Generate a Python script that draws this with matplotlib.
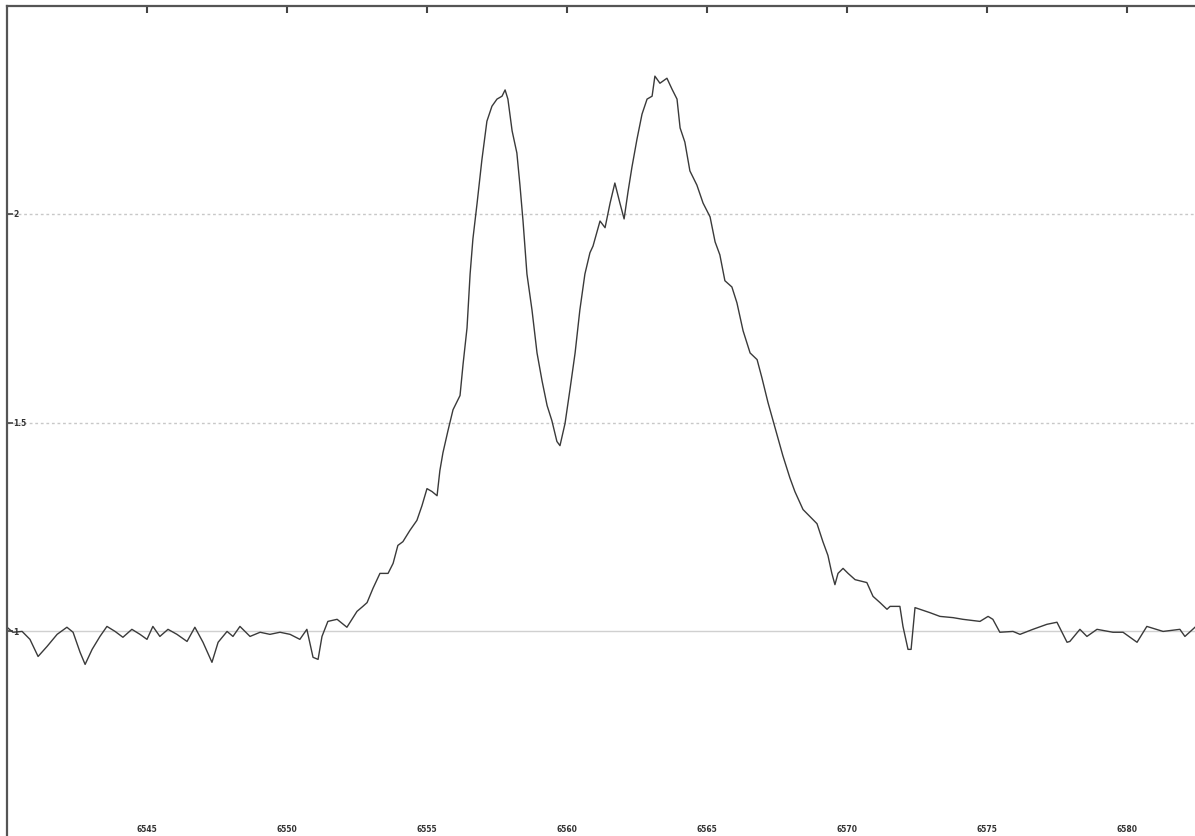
import matplotlib
matplotlib.use("Agg")
import matplotlib.pyplot as plt
import matplotlib.transforms as mtransforms

# spectrum (wavelength in Angstrom, normalised flux)
wavelength = [
    6540.00, 6540.21, 6540.54, 6540.82, 6541.11, 6541.43, 6541.79, 6542.14, 6542.36, 6542.61,
    6542.79, 6543.04, 6543.32, 6543.57, 6543.86, 6544.14, 6544.46, 6544.75, 6545.00, 6545.21,
    6545.46, 6545.75, 6546.07, 6546.43, 6546.71, 6547.00, 6547.32, 6547.54, 6547.86, 6548.07,
    6548.32, 6548.68, 6549.04, 6549.39, 6549.75, 6550.11, 6550.46, 6550.71, 6550.93, 6551.11,
    6551.25, 6551.46, 6551.79, 6552.14, 6552.50, 6552.71, 6552.86, 6553.07, 6553.32, 6553.61,
    6553.79, 6553.96, 6554.14, 6554.39, 6554.64, 6554.82, 6555.00, 6555.18, 6555.36, 6555.46,
    6555.57, 6555.75, 6555.93, 6556.18, 6556.29, 6556.43, 6556.54, 6556.64, 6556.79, 6556.96,
    6557.14, 6557.32, 6557.50, 6557.68, 6557.79, 6557.89, 6558.04, 6558.21, 6558.32, 6558.43,
    6558.57, 6558.75, 6558.93, 6559.11, 6559.29, 6559.46, 6559.64, 6559.75, 6559.93, 6560.11,
    6560.29, 6560.46, 6560.64, 6560.82, 6560.93, 6561.18, 6561.36, 6561.54, 6561.71, 6561.89,
    6562.04, 6562.18, 6562.32, 6562.50, 6562.68, 6562.86, 6563.04, 6563.14, 6563.32, 6563.57,
    6563.75, 6563.93, 6564.04, 6564.21, 6564.39, 6564.64, 6564.86, 6565.11, 6565.29, 6565.46,
    6565.64, 6565.89, 6566.07, 6566.29, 6566.54, 6566.79, 6566.96, 6567.18, 6567.36, 6567.54,
    6567.71, 6567.96, 6568.14, 6568.43, 6568.68, 6568.93, 6569.14, 6569.32, 6569.46, 6569.57,
    6569.68, 6569.86, 6570.04, 6570.29, 6570.71, 6570.93, 6571.18, 6571.43, 6571.54, 6571.89,
    6572.00, 6572.18, 6572.29, 6572.43, 6572.61, 6572.96, 6573.32, 6573.79, 6574.14, 6574.75,
    6575.04, 6575.21, 6575.46, 6575.93, 6576.18, 6576.64, 6577.14, 6577.50, 6577.86, 6577.96,
    6578.32, 6578.57, 6578.93, 6579.50, 6579.86, 6580.36, 6580.71, 6581.29, 6581.89, 6582.07,
    6582.43,
]
flux = [
    1.010, 0.998, 1.000, 0.981, 0.940, 0.964, 0.993, 1.010, 0.998, 0.950,
    0.921, 0.957, 0.988, 1.012, 1.000, 0.986, 1.005, 0.993, 0.981, 1.012,
    0.988, 1.005, 0.993, 0.976, 1.010, 0.974, 0.926, 0.974, 1.000, 0.988,
    1.012, 0.988, 0.998, 0.993, 0.998, 0.993, 0.981, 1.005, 0.938, 0.933,
    0.988, 1.024, 1.029, 1.010, 1.048, 1.060, 1.069, 1.103, 1.139, 1.139,
    1.163, 1.206, 1.215, 1.242, 1.266, 1.301, 1.342, 1.335, 1.325, 1.385,
    1.428, 1.481, 1.531, 1.565, 1.641, 1.727, 1.856, 1.940, 2.026, 2.129,
    2.222, 2.258, 2.275, 2.282, 2.297, 2.275, 2.199, 2.146, 2.069, 1.983,
    1.856, 1.770, 1.667, 1.600, 1.541, 1.505, 1.455, 1.445, 1.498, 1.581,
    1.667, 1.770, 1.856, 1.907, 1.923, 1.983, 1.967, 2.026, 2.074, 2.026,
    1.988, 2.053, 2.112, 2.179, 2.239, 2.275, 2.282, 2.330, 2.313, 2.325,
    2.299, 2.275, 2.206, 2.172, 2.103, 2.069, 2.026, 1.993, 1.933, 1.902,
    1.840, 1.825, 1.787, 1.720, 1.667, 1.651, 1.608, 1.548, 1.505, 1.462,
    1.421, 1.368, 1.335, 1.292, 1.275, 1.258, 1.215, 1.182, 1.139, 1.112,
    1.139, 1.151, 1.139, 1.124, 1.117, 1.084, 1.069, 1.053, 1.060, 1.060,
    1.012, 0.957, 0.957, 1.057, 1.053, 1.045, 1.036, 1.033, 1.029, 1.024,
    1.036, 1.029, 0.998, 1.000, 0.993, 1.005, 1.017, 1.022, 0.974, 0.976,
    1.005, 0.988, 1.005, 0.998, 0.998, 0.974, 1.012, 1.000, 1.005, 0.988,
    1.010,
]

x_ticks = [6545, 6550, 6555, 6560, 6565, 6570, 6575, 6580]
y_ticks = [1, 1.5, 2]
y_labels = ["1", "1.5", "2"]

fig = plt.figure(figsize=(11.95, 8.37), dpi=100)
ax = fig.add_axes([7 / 1195, 0, 1188 / 1195, 830 / 837])

ax.plot(wavelength, flux, color="#3a3a3a", lw=1.0)

ax.set_xlim(6540, 6582.43)
ax.set_ylim(0.51, 2.498)

# horizontal grid
for yv in y_ticks:
    if yv == 1:
        ax.axhline(yv, color="#d0d0d0", lw=1.0, zorder=0)
    else:
        ax.axhline(yv, color="#c8c8c8", lw=1.0, ls=(0, (2, 2)), zorder=0)

# spines: only left and top
for side in ["bottom", "right"]:
    ax.spines[side].set_visible(False)
for side in ["left", "top"]:
    ax.spines[side].set_color("#555555")
    ax.spines[side].set_linewidth(1.6)

ax.xaxis.set_ticks_position("top")
ax.set_xticks(x_ticks)
ax.set_xticklabels([])
ax.tick_params(axis="x", direction="in", length=5, width=1.5, color="#444444")
ax.set_yticks(y_ticks)
ax.set_yticklabels([])
ax.tick_params(axis="y", direction="in", length=4, width=1.2, color="#444444")

# tick labels drawn inside the frame
tx = mtransforms.blended_transform_factory(ax.transData, ax.transAxes)
for xv in x_ticks:
    ax.text(xv, 0.0085, str(xv), transform=tx, ha="center", va="center",
            fontsize=5.5, fontweight="bold", color="#333333")
ty = mtransforms.blended_transform_factory(ax.transAxes, ax.transData)
for yv, lab in zip(y_ticks, y_labels):
    ax.text(0.0055, yv, lab, transform=ty, ha="left", va="center",
            fontsize=5.5, fontweight="bold", color="#333333")

fig.savefig("out.png", dpi=100)
